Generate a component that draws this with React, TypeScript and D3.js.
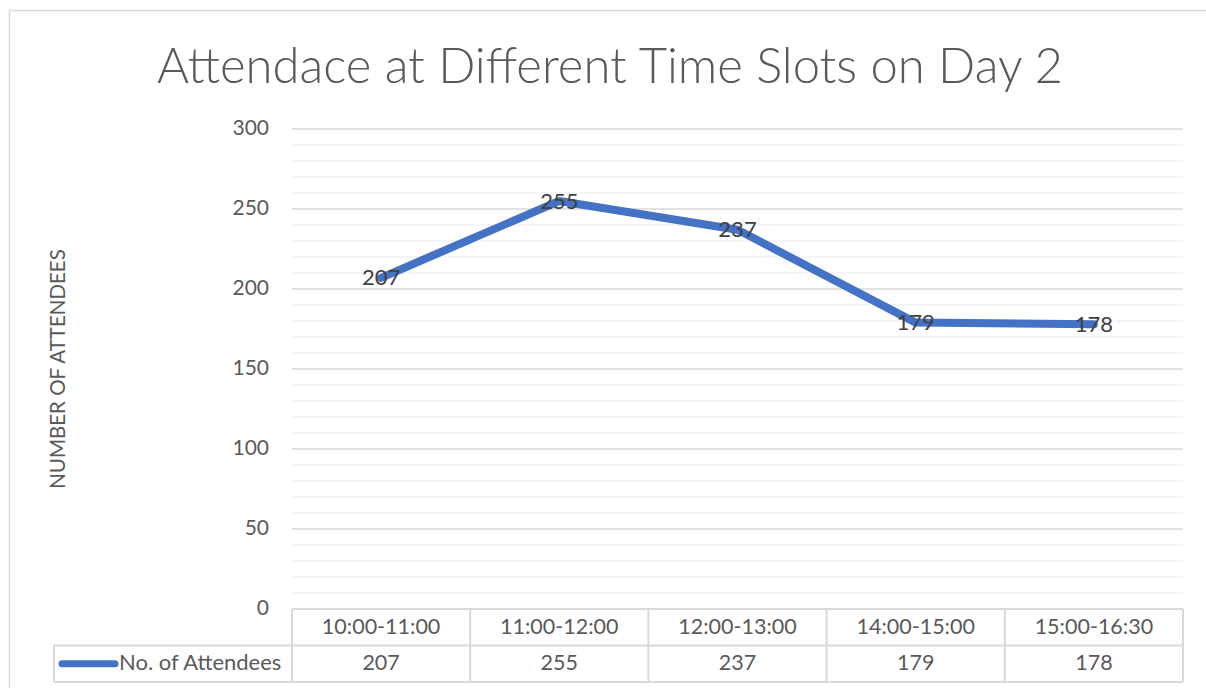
import { useEffect, useRef } from "react";
import * as d3 from "d3";

const slots = ["10:00-11:00", "11:00-12:00", "12:00-13:00", "14:00-15:00", "15:00-16:30"];
const attendees = [207, 255, 237, 179, 178];
const yTicks = [0, 50, 100, 150, 200, 250, 300];
const seriesName = "No. of Attendees";

export default function App() {
  const ref = useRef<SVGSVGElement>(null);
  const width = 1206;
  const height = 688;

  useEffect(() => {
    const svg = d3.select(ref.current);
    svg.selectAll("*").remove();

    const left = 292;
    const right = 1183;
    const top = 129;
    const bottom = 609;
    const rowH = 36.5;
    const font = "Lato, 'Open Sans', sans-serif";

    // outer chart frame
    svg
      .append("rect")
      .attr("x", 9.5)
      .attr("y", 10.5)
      .attr("width", 1210)
      .attr("height", 700)
      .attr("fill", "#fff")
      .attr("stroke", "#d9d9d9")
      .attr("stroke-width", 1.5);

    svg
      .append("text")
      .attr("x", 610)
      .attr("y", 83)
      .attr("text-anchor", "middle")
      .attr("font-family", font)
      .attr("font-weight", 300)
      .attr("font-size", 49)
      .attr("fill", "#595959")
      .text("Attendace at Different Time Slots on Day 2");

    const x = d3.scaleBand().domain(slots).range([left, right]);
    const y = d3.scaleLinear().domain([0, 300]).range([bottom, top]);

    // minor gridlines
    svg
      .append("g")
      .selectAll("line")
      .data(d3.range(10, 300, 10).filter((v) => v % 50 !== 0))
      .join("line")
      .attr("x1", left)
      .attr("x2", right)
      .attr("y1", (d) => y(d))
      .attr("y2", (d) => y(d))
      .attr("stroke", "#f2f2f2")
      .attr("stroke-width", 1.5);

    // major gridlines
    svg
      .append("g")
      .selectAll("line")
      .data(yTicks.filter((v) => v > 0))
      .join("line")
      .attr("x1", left)
      .attr("x2", right)
      .attr("y1", (d) => y(d))
      .attr("y2", (d) => y(d))
      .attr("stroke", "#d9d9d9")
      .attr("stroke-width", 1.5);

    svg
      .append("g")
      .selectAll("text")
      .data(yTicks)
      .join("text")
      .attr("x", 269)
      .attr("y", (d) => y(d) + 1)
      .attr("text-anchor", "end")
      .attr("dominant-baseline", "middle")
      .attr("font-family", font)
      .attr("font-size", 21)
      .attr("fill", "#595959")
      .text((d) => d);

    svg
      .append("text")
      .attr("transform", `translate(65,${y(150)}) rotate(-90)`)
      .attr("text-anchor", "middle")
      .attr("font-family", font)
      .attr("font-size", 20.5)
      .attr("fill", "#595959")
      .text("NUMBER OF ATTENDEES");

    // data table
    const tbl = svg.append("g");
    const grid = "#d9d9d9";
    const hl = (x1: number, x2: number, yy: number) =>
      tbl.append("line").attr("x1", x1).attr("x2", x2).attr("y1", yy).attr("y2", yy).attr("stroke", grid).attr("stroke-width", 2);
    const vl = (xx: number, y1: number, y2: number) =>
      tbl.append("line").attr("x1", xx).attr("x2", xx).attr("y1", y1).attr("y2", y2).attr("stroke", grid).attr("stroke-width", 2);
    hl(left, right, bottom);
    hl(54, right, bottom + rowH);
    hl(54, right, bottom + 2 * rowH);
    vl(54, bottom + rowH, bottom + 2 * rowH);
    slots.forEach((s) => vl(x(s)!, bottom, bottom + 2 * rowH));
    vl(right, bottom, bottom + 2 * rowH);

    tbl
      .selectAll("text.cat")
      .data(slots)
      .join("text")
      .attr("class", "cat")
      .attr("x", (d) => x(d)! + x.bandwidth() / 2)
      .attr("y", bottom + rowH / 2 + 1)
      .attr("text-anchor", "middle")
      .attr("dominant-baseline", "middle")
      .attr("font-family", font)
      .attr("font-size", 21.5)
      .attr("fill", "#595959")
      .text((d) => d);

    tbl
      .selectAll("text.val")
      .data(attendees)
      .join("text")
      .attr("class", "val")
      .attr("x", (_, i) => x(slots[i])! + x.bandwidth() / 2)
      .attr("y", bottom + rowH * 1.5 + 1)
      .attr("text-anchor", "middle")
      .attr("dominant-baseline", "middle")
      .attr("font-family", font)
      .attr("font-size", 21.5)
      .attr("fill", "#595959")
      .text((d) => d);

    tbl
      .append("line")
      .attr("x1", 62)
      .attr("x2", 115)
      .attr("y1", bottom + rowH * 1.5)
      .attr("y2", bottom + rowH * 1.5)
      .attr("stroke", "#4472c4")
      .attr("stroke-width", 7)
      .attr("stroke-linecap", "round");
    tbl
      .append("text")
      .attr("x", 119)
      .attr("y", bottom + rowH * 1.5 + 1)
      .attr("dominant-baseline", "middle")
      .attr("font-family", font)
      .attr("font-size", 22)
      .attr("fill", "#595959")
      .text(seriesName);

    const line = d3
      .line<number>()
      .x((_, i) => x(slots[i])! + x.bandwidth() / 2)
      .y((d) => y(d));

    svg
      .append("path")
      .datum(attendees)
      .attr("d", line)
      .attr("fill", "none")
      .attr("stroke", "#4472c4")
      .attr("stroke-width", 8)
      .attr("stroke-linecap", "round")
      .attr("stroke-linejoin", "round");

    svg
      .append("g")
      .selectAll("text")
      .data(attendees)
      .join("text")
      .attr("x", (_, i) => x(slots[i])! + x.bandwidth() / 2)
      .attr("y", (d) => y(d) + 2)
      .attr("text-anchor", "middle")
      .attr("dominant-baseline", "middle")
      .attr("font-family", font)
      .attr("font-size", 22)
      .attr("fill", "#404040")
      .text((d) => d);
  }, []);

  return (
    <svg
      ref={ref}
      width={width}
      height={height}
      style={{ position: "absolute", left: 0, top: 0, display: "block" }}
    />
  );
}
